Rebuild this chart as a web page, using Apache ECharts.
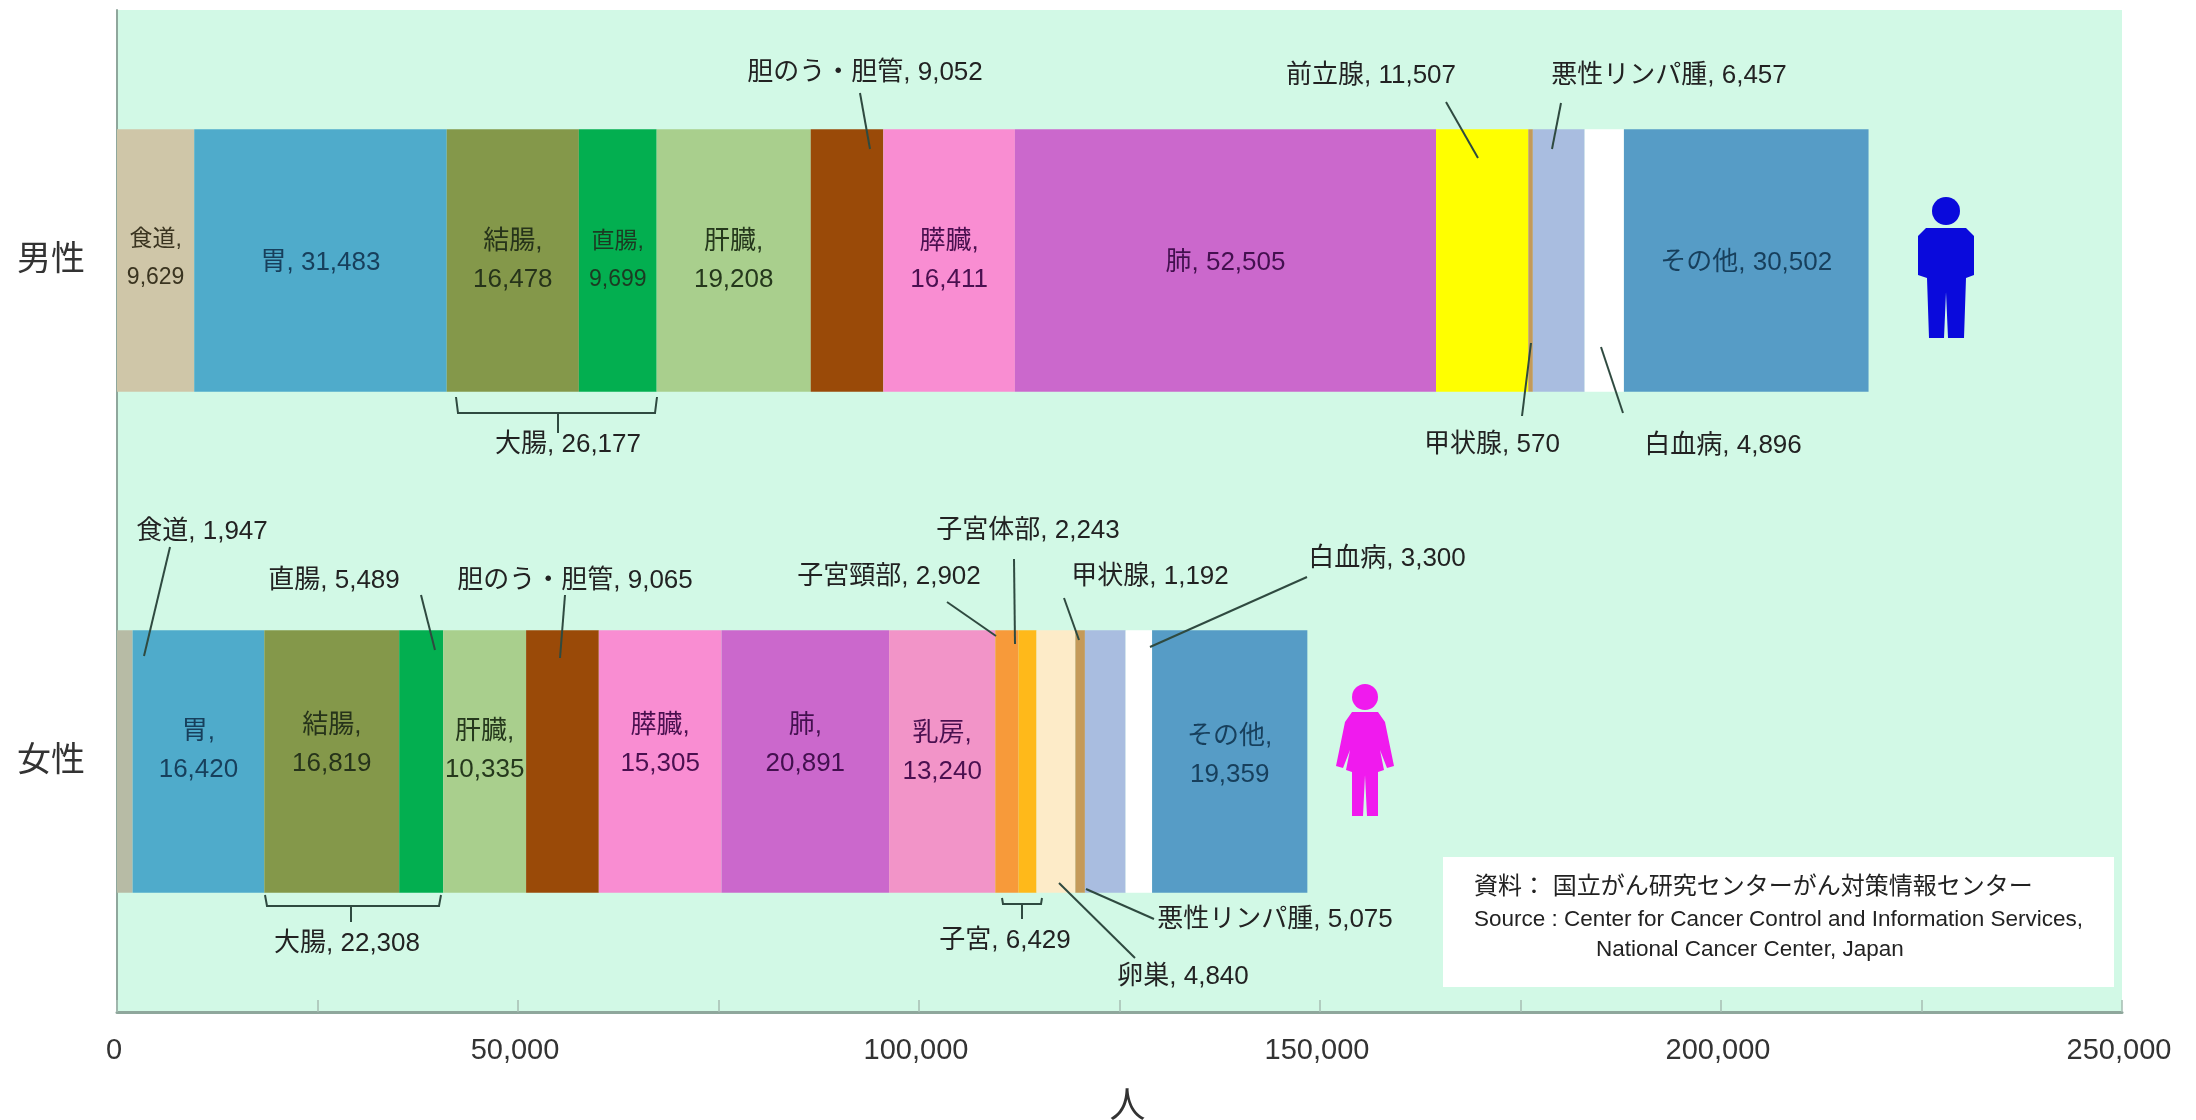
<!DOCTYPE html>
<html><head><meta charset="utf-8">
<style>html,body{margin:0;padding:0;background:#fff}#c{width:2196px;height:1120px}#c canvas{filter:blur(0.6px)}</style>
<script src="https://cdn.jsdelivr.net/npm/echarts@6/dist/echarts.min.js"></script>
</head><body><div id="c"></div>
<script>
const categories = ['男性', '女性'];
const axisTicks = [0, 50000, 100000, 150000, 200000, 250000];
const sites = ['食道','胃','結腸','直腸','肝臓','胆のう・胆管','膵臓','肺','乳房','前立腺','子宮頸部','子宮体部','卵巣','甲状腺','悪性リンパ腫','白血病','その他'];
const maleValues   = [9629,31483,16478,9699,19208,9052,16411,52505,null,11507,null,null,null,570,6457,4896,30502];
const femaleValues = [1947,16420,16819,5489,10335,9065,15305,20891,13240,null,2902,2243,4840,1192,5075,3300,19359];
const colonTotal = [26177, 22308];
const uterusTotal = 6429;

const maleColors   = ['#CFC6A8','#4FABCB','#84984A','#03AF50','#A9CF8D','#9A4A08','#F98DD2','#CB68CC','#F294C8','#FFFF00','#F79A3A','#FFB91A','#FDEBC8','#C49A5A','#A9BDE0','#FFFFFF','#569CC6'];
const femaleColors = ['#B7BBA5','#4FABCB','#84984A','#03AF50','#A9CF8D','#9A4A08','#F98DD2','#CB68CC','#F294C8','#FFFF00','#F79A3A','#FFB91A','#FDEBC8','#C49A5A','#A9BDE0','#FFFFFF','#569CC6'];
const labelColors  = ['#3a3420','#173f5c','#26331a','#1c3a22','#25381c','#222','#4a1050','#43104f','#4a1050','#222','#222','#222','#222','#222','#222','#222','#173f5c'];

// Which bars carry a label inside, with vertical label offsets (px)
const insideMale   = {'食道':-2,'胃':2,'結腸':0,'直腸':0,'肝臓':0,'膵臓':0,'肺':2,'その他':2};
const twoLineMale  = ['食道','結腸','直腸','肝臓','膵臓'];
const insideFemale = {'胃':-11,'結腸':-17,'肝臓':-11,'膵臓':-17,'肺':-17,'乳房':-9,'その他':-6};
const twoLineFemale= ['胃','結腸','肝臓','膵臓','肺','乳房','その他'];

const fmt = v => v.toLocaleString('en-US');
const FONT = '"Liberation Sans","Noto Sans CJK JP",sans-serif';

function makeLabel(name, value, table, twoLine, color, size) {
  if (!(name in table)) return {show:false};
  const sep = twoLine.includes(name) ? ',\n' : ', ';
  return {
    show:true, position:'inside', offset:[0, table[name]],
    formatter: name + sep + fmt(value),
    fontFamily: FONT, fontSize: (name==='食道'||name==='直腸') ? 23 : 26, lineHeight: 38, color
  };
}

const series = sites.map((name,i)=>({
  type:'bar', name, stack:'total', barWidth:'52.4%',
  data:[
    {value:maleValues[i], itemStyle:{color:maleColors[i]}, label:makeLabel(name,maleValues[i],insideMale,twoLineMale,labelColors[i])},
    {value:femaleValues[i], itemStyle:{color:femaleColors[i]}, label:makeLabel(name,femaleValues[i],insideFemale,twoLineFemale,labelColors[i])}
  ],
  silent:true, animation:false
}));

const m = n => maleValues[sites.indexOf(n)];
const f = n => femaleValues[sites.indexOf(n)];

// Callouts: text, text centre, leader polyline
const callouts = [
  ['胆のう・胆管, '+fmt(m('胆のう・胆管')), 865,73, [[860,93],[870,149]]],
  ['前立腺, '+fmt(m('前立腺')), 1371,76, [[1446,102],[1478,158]]],
  ['悪性リンパ腫, '+fmt(m('悪性リンパ腫')), 1669,76, [[1561,103],[1552,149]]],
  ['甲状腺, '+fmt(m('甲状腺')), 1492,445, [[1531,343],[1522,416]]],
  ['白血病, '+fmt(m('白血病')), 1723,446, [[1601,347],[1623,413]]],
  ['大腸, '+fmt(colonTotal[0]), 568,445, [[456,397],[458,413],[655,413],[657,397]], [[558,413],[558,433]]],
  ['食道, '+fmt(f('食道')), 202,532, [[170,547],[144,656]]],
  ['直腸, '+fmt(f('直腸')), 334,581, [[421,595],[435,650]]],
  ['胆のう・胆管, '+fmt(f('胆のう・胆管')), 575,581, [[565,595],[560,658]]],
  ['子宮頸部, '+fmt(f('子宮頸部')), 889,577, [[947,602],[996,636]]],
  ['子宮体部, '+fmt(f('子宮体部')), 1028,531, [[1014,559],[1015,644]]],
  ['甲状腺, '+fmt(f('甲状腺')), 1150,577, [[1064,598],[1079,640]]],
  ['白血病, '+fmt(f('白血病')), 1387,559, [[1307,577],[1150,647]]],
  ['大腸, '+fmt(colonTotal[1]), 347,944, [[265,895],[267,906],[439,906],[441,895]], [[351,906],[351,922]]],
  ['子宮, '+fmt(uterusTotal), 1005,941, [[1002,898],[1003,904],[1041,904],[1042,898]], [[1022,904],[1022,919]]],
  ['卵巣, '+fmt(f('卵巣')), 1183,977, [[1059,883],[1135,958]]],
  ['悪性リンパ腫, '+fmt(f('悪性リンパ腫')), 1275,920, [[1086,889],[1154,919]]]
];

const g = [];
for (const [text,x,y,...lines] of callouts) {
  g.push({type:'text',x,y,style:{text,x:0,y:0,align:'center',verticalAlign:'middle',fontFamily:FONT,fontSize:26,fill:'#222'},z:10});
  for (const pts of lines) g.push({type:'polyline',shape:{points:pts},style:{stroke:'#2f4a40',lineWidth:2,fill:null},z:10});
}
// Male figure
const blue='#0A0ADC', pink='#F01AEE';
g.push({type:'circle',shape:{cx:1946,cy:211,r:14},style:{fill:blue},z:9});
g.push({type:'polygon',shape:{points:[[1926,228],[1966,228],[1974,236],[1974,275],[1966,278],[1964,338],[1948,338],[1946,292],[1944,338],[1929,338],[1927,278],[1918,275],[1918,236]]},style:{fill:blue},z:9});
// Female figure
g.push({type:'circle',shape:{cx:1365,cy:697,r:13},style:{fill:pink},z:9});
g.push({type:'polygon',shape:{points:[[1352,712],[1378,712],[1385,722],[1394,766],[1387,768],[1380,750],[1384,770],[1378,772],[1378,816],[1367,816],[1365,775],[1363,816],[1352,816],[1352,772],[1346,770],[1350,750],[1343,768],[1336,766],[1345,722]]},style:{fill:pink},z:9});
// Source box
g.push({type:'rect',shape:{x:1443,y:857,width:671,height:130},style:{fill:'#fff'},z:5});
g.push({type:'text',x:1474,y:887,style:{text:'資料： 国立がん研究センターがん対策情報センター',verticalAlign:'middle',fontFamily:FONT,fontSize:24,fill:'#222'},z:6});
g.push({type:'text',x:1474,y:920,style:{text:'Source : Center for Cancer Control and Information Services,',verticalAlign:'middle',fontFamily:FONT,fontSize:22.5,fill:'#222'},z:6});
g.push({type:'text',x:1596,y:950,style:{text:'National Cancer Center, Japan',verticalAlign:'middle',fontFamily:FONT,fontSize:22.5,fill:'#222'},z:6});

const chart = echarts.init(document.getElementById('c'),null,{renderer:'canvas'});
chart.setOption({
  animation:false,
  backgroundColor:'#fff',
  grid:{left:117,right:74,top:10,bottom:108,outerBoundsMode:'none',show:true,backgroundColor:'#D2F9E6',borderWidth:0},
  xAxis:{
    type:'value',min:0,max:250000,interval:25000,
    splitLine:{show:false},
    axisLine:{show:true,lineStyle:{color:'#8FA79C',width:3}},
    axisTick:{show:true,inside:true,length:12,lineStyle:{color:'#A6BDB2',width:1.5}},
    axisLabel:{
      margin:24,fontFamily:FONT,fontSize:29,color:'#333',padding:[0,6,0,0],
      formatter:v=>axisTicks.includes(v)?fmt(v):''
    },
    name:'人',nameLocation:'middle',nameGap:78,
    nameTextStyle:{fontFamily:FONT,fontSize:36,color:'#333',padding:[0,0,0,16]}
  },
  yAxis:{
    type:'category',data:categories,inverse:true,
    axisLine:{show:true,lineStyle:{color:'#8FA79C',width:2}},
    axisTick:{show:false},
    axisLabel:{margin:32,fontFamily:FONT,fontSize:34,color:'#333'}
  },
  series,
  graphic:{elements:g}
});
</script></body></html>
